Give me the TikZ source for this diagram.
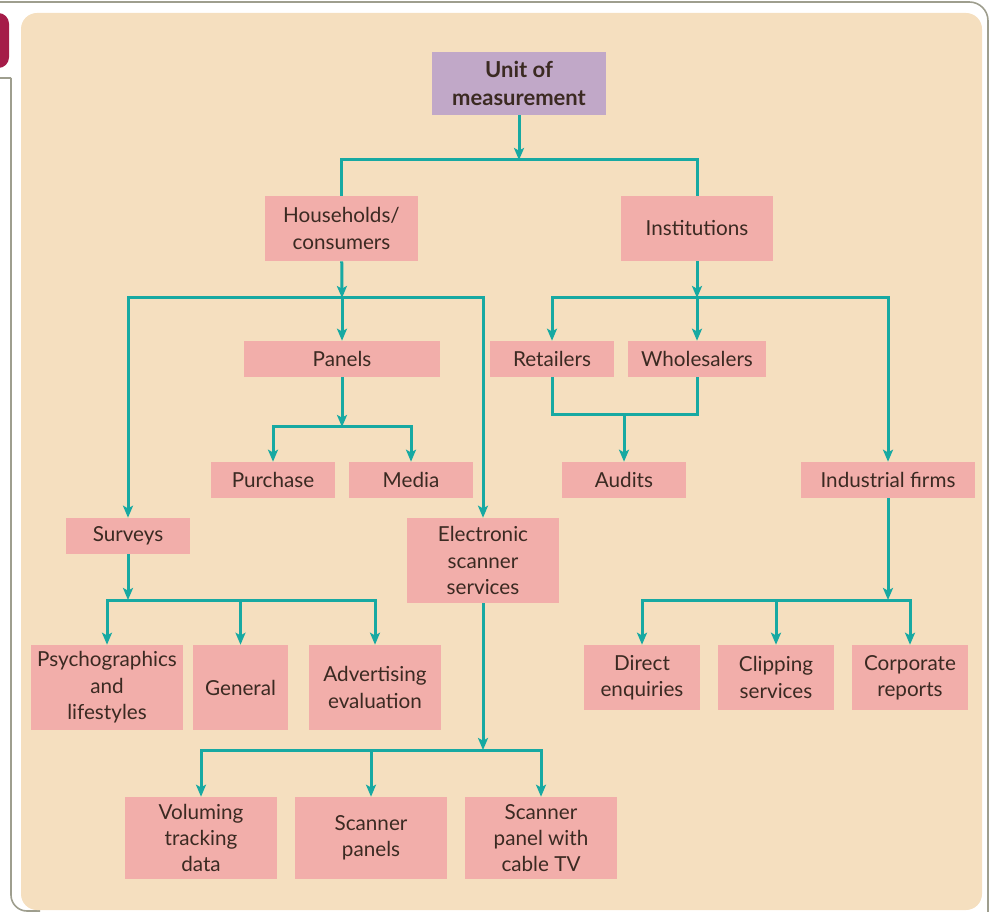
\documentclass[tikz,border=0pt]{standalone}
\usepackage{fontspec}
\setmainfont{Lato}
\usetikzlibrary{arrows.meta}

\definecolor{panelbg}{HTML}{F5DFBF}
\definecolor{boxpink}{HTML}{F2AEAA}
\definecolor{boxlilac}{HTML}{C1A8C8}
\definecolor{linkteal}{HTML}{17A9A2}
\definecolor{framegrey}{HTML}{9E9E8E}
\definecolor{tabred}{HTML}{A51C48}
\definecolor{inkbrown}{HTML}{3B2A22}

\tikzset{
    pbox/.style 2 args={fill=boxpink, text=inkbrown, align=center, inner sep=0pt,
        minimum width=#1*0.75pt, minimum height=#2*0.75pt,
        font=\fontsize{15.5}{19.8}\selectfont},
    link/.style={draw=linkteal, line width=2.25pt},
    arr/.style={-{Stealth[length=9pt,width=7.5pt,inset=2pt]}}
}

\begin{document}
\begin{tikzpicture}[x=0.75pt,y=-0.75pt]
    \useasboundingbox (0,0) rectangle (989,912);

    % frame and panel
    \draw[framegrey, line width=1.2pt, rounded corners=14pt] (0,2) -- (988,2) -- (988,930);
    \draw[framegrey, line width=1.2pt] (0,78) -- (11,78);
    \draw[framegrey, line width=1.2pt, rounded corners=12pt] (11,78) -- (11,911) -- (40,911);
    \fill[tabred, rounded corners=8pt] (-20,13) rectangle (9,68);
    \fill[panelbg, rounded corners=12pt] (21,13) rectangle (982,910);

        \begin{scope}[every node/.style={pbox={152}{36}}]
            \node[pbox={174}{63}, fill=boxlilac, font=\fontsize{16.5}{20.5}\selectfont\bfseries] (unit) at (519,83.5) {Unit of\\measurement};
            \node[pbox={153}{65}] (house) at (341.5,228.5) {Households/\\consumers};
            \node[pbox={152}{65}] (inst) at (697,228.5) {Institutions};
            \node[pbox={196}{36}] (panels) at (342,359) {Panels};
            \node[pbox={124}{36}] (retail) at (552,359) {Retailers};
            \node[pbox={138}{36}] (whole) at (697,359) {Wholesalers};
            \node[pbox={124}{36}] (purchase) at (273,480) {Purchase};
            \node[pbox={124}{36}] (media) at (411,480) {Media};
            \node[pbox={124}{36}] (audits) at (624,480) {Audits};
            \node[pbox={174}{36}] (indus) at (888,480) {Industrial firms};
            \node[pbox={124}{36}] (surveys) at (128,536) {Surveys};
            \node[pbox={152}{85}] (elec) at (483,560.5) {Electronic\\scanner\\services};
            \node[pbox={152}{85}] (psycho) at (107,687.5) {Psychographics\\and\\lifestyles};
            \node[pbox={95}{85}] (general) at (240.5,687.5) {General};
            \node[pbox={132}{85}] (advert) at (375,687.5) {Advertising\\evaluation};
            \node[pbox={116}{65}] (direct) at (642,677.5) {Direct\\enquiries};
            \node[pbox={116}{65}] (clip) at (776,677.5) {Clipping\\services};
            \node[pbox={116}{65}] (corp) at (910,677.5) {Corporate\\reports};
            \node[pbox={152}{82}] (volume) at (201,838) {Voluming\\tracking\\data};
            \node[pbox={152}{82}] (scanp) at (371,838) {Scanner\\panels};
            \node[pbox={152}{82}] (cable) at (541,838) {Scanner\\panel with\\cable TV};
        \end{scope}

        \coordinate (j1) at (519,160);
        \coordinate (j2) at (342,298);
        \coordinate (j3) at (697,298);
        \coordinate (j4) at (342,427);
        \coordinate (j5) at (624,415);
        \coordinate (j6) at (128,600);
        \coordinate (j7) at (483,750);
        \coordinate (j8) at (888,600);

        \begin{scope}[every path/.style={link}]
            \draw [arr] (unit) -- (j1);
            \draw (house.north) |- (j1) -| (inst.north);

            \draw [arr] (house) -- (j2);
            \draw [arr] (j2) -| (surveys.north);
            \draw [arr] (j2) -- (panels.north);
            \draw [arr] (j2) -| (elec.north);

            \draw [arr] (inst) -- (j3);
            \draw [arr] (j3) -| (retail.north);
            \draw [arr] (j3) -- (whole.north);
            \draw [arr] (j3) -| (indus.north);

            \draw [arr] (panels) -- (j4);
            \draw [arr] (j4) -| (purchase.north);
            \draw [arr] (j4) -| (media.north);

            \draw (retail.south) |- (j5) -| (whole.south);
            \draw [arr] (j5) -- (audits.north);

            \draw [arr] (surveys) -- (j6);
            \draw [arr] (j6) -| (psycho.north);
            \draw [arr] (j6) -| (general.north);
            \draw [arr] (j6) -| (advert.north);

            \draw [arr] (elec) -- (j7);
            \draw [arr] (j7) -| (volume.north);
            \draw [arr] (j7) -| (scanp.north);
            \draw [arr] (j7) -| (cable.north);

            \draw [arr] (indus) -- (j8);
            \draw [arr] (j8) -| (direct.north);
            \draw [arr] (j8) -| (clip.north);
            \draw [arr] (j8) -| (corp.north);
        \end{scope}

\end{tikzpicture}
\end{document}
